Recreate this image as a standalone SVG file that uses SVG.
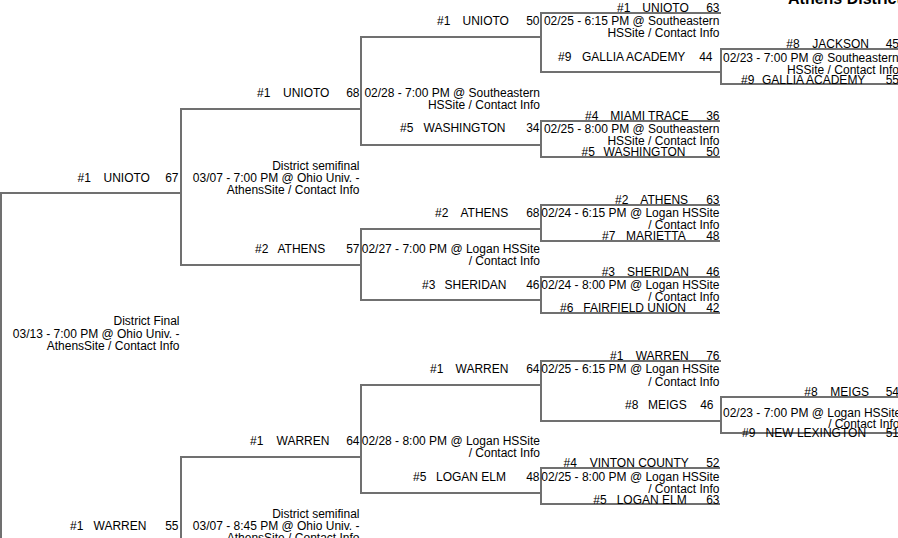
<svg xmlns="http://www.w3.org/2000/svg" width="898" height="538" viewBox="0 0 898 538">
<style>
text{font-family:"Liberation Sans",Arial,sans-serif;font-size:12px;fill:#000}
.e{text-anchor:end}
.title{font-weight:bold;font-size:16px}
.br{fill:none;stroke:#707070;stroke-width:2}
</style>
<rect width="898" height="538" fill="#fff"/>
<text class="title" x="788" y="3.5">Athens District</text>
<g id="connectors">
<path class="br" d="M0,193 H182 M1,192 V545"/>
<path class="br" d="M362,109 H181 V265 H362"/>
<path class="br" d="M362,457 H181 V545"/>
<path class="br" d="M542,37 H361 V145 H542"/>
<path class="br" d="M542,229 H361 V300 H542"/>
<path class="br" d="M542,385 H361 V493 H542"/>
<path class="br" d="M721,13 H541 V72 H722"/>
<path class="br" d="M720,121 H541 V157 H720"/>
<path class="br" d="M720,205 H541 V241 H720"/>
<path class="br" d="M720,277 H541 V313 H720"/>
<path class="br" d="M721,361 H541 V421 H722"/>
<path class="br" d="M720,468 H541 V504 H720"/>
<path class="br" d="M900,49 H721 V84 H900"/>
<path class="br" d="M900,397 H721 V433 H900"/>
</g>
<g id="final">
<text x="77.5" y="181.5">#1</text><text x="103.5" y="181.5">UNIOTO</text><text class="e" x="178.5" y="181.5">67</text>
<text class="e" x="179.5" y="325">District Final</text>
<text class="e" x="179.5" y="337.5">03/13 - 7:00 PM @ Ohio Univ. -</text>
<text class="e" x="179.5" y="349.5">AthensSite / Contact Info</text>
<text x="70" y="529.5">#1</text><text x="93.5" y="529.5">WARREN</text><text class="e" x="178.5" y="529.5">55</text>
</g>
<g id="semifinal-1">
<text x="257" y="97">#1</text><text x="283" y="97">UNIOTO</text><text class="e" x="359.5" y="97">68</text>
<text class="e" x="359.5" y="169.5">District semifinal</text>
<text class="e" x="359.5" y="181.5">03/07 - 7:00 PM @ Ohio Univ. -</text>
<text class="e" x="359.5" y="193.5">AthensSite / Contact Info</text>
<text x="255" y="253">#2</text><text x="277.5" y="253">ATHENS</text><text class="e" x="359.5" y="253">57</text>
</g>
<g id="semifinal-2">
<text x="250" y="445">#1</text><text x="276.5" y="445">WARREN</text><text class="e" x="359.5" y="445">64</text>
<text class="e" x="359.5" y="517.5">District semifinal</text>
<text class="e" x="359.5" y="529.5">03/07 - 8:45 PM @ Ohio Univ. -</text>
<text class="e" x="359.5" y="541.5">AthensSite / Contact Info</text>
</g>
<g id="quarter-1">
<text x="437" y="25">#1</text><text x="462.5" y="25">UNIOTO</text><text class="e" x="539.5" y="25">50</text>
<text class="e" x="540" y="97">02/28 - 7:00 PM @ Southeastern</text>
<text class="e" x="540" y="109">HSSite / Contact Info</text>
<text x="400" y="132">#5</text><text x="423.5" y="132">WASHINGTON</text><text class="e" x="539.5" y="132">34</text>
</g>
<g id="quarter-2">
<text x="435" y="217">#2</text><text x="460.5" y="217">ATHENS</text><text class="e" x="539.5" y="217">68</text>
<text class="e" x="540" y="253">02/27 - 7:00 PM @ Logan HSSite</text>
<text class="e" x="540" y="265">/ Contact Info</text>
<text x="422" y="289">#3</text><text x="444.5" y="289">SHERIDAN</text><text class="e" x="539.5" y="289">46</text>
</g>
<g id="quarter-3">
<text x="430" y="373">#1</text><text x="455.5" y="373">WARREN</text><text class="e" x="539.5" y="373">64</text>
<text class="e" x="540" y="445">02/28 - 8:00 PM @ Logan HSSite</text>
<text class="e" x="540" y="457">/ Contact Info</text>
<text x="413" y="481">#5</text><text x="436" y="481">LOGAN ELM</text><text class="e" x="539.5" y="481">48</text>
</g>
<g id="first-1">
<text x="617" y="12">#1</text><text x="642.3" y="12">UNIOTO</text><text class="e" x="719.5" y="12">63</text>
<text class="e" x="719.5" y="25">02/25 - 6:15 PM @ Southeastern</text>
<text class="e" x="719.5" y="37">HSSite / Contact Info</text>
<text x="558" y="61">#9</text><text x="582" y="61">GALLIA ACADEMY</text><text class="e" x="712.5" y="61">44</text>
</g>
<g id="first-2">
<text x="585" y="120">#4</text><text x="610.3" y="120">MIAMI TRACE</text><text class="e" x="719.5" y="120">36</text>
<text class="e" x="719.5" y="133">02/25 - 8:00 PM @ Southeastern</text>
<text class="e" x="719.5" y="145">HSSite / Contact Info</text>
<text x="581.5" y="156">#5</text><text x="603.5" y="156">WASHINGTON</text><text class="e" x="719.5" y="156">50</text>
</g>
<g id="first-3">
<text x="615" y="204">#2</text><text x="640.3" y="204">ATHENS</text><text class="e" x="719.5" y="204">63</text>
<text class="e" x="719.5" y="217">02/24 - 6:15 PM @ Logan HSSite</text>
<text class="e" x="719.5" y="229">/ Contact Info</text>
<text x="602" y="240">#7</text><text x="626" y="240">MARIETTA</text><text class="e" x="719.5" y="240">48</text>
</g>
<g id="first-4">
<text x="601.7" y="276">#3</text><text x="627" y="276">SHERIDAN</text><text class="e" x="719.5" y="276">46</text>
<text class="e" x="719.5" y="289">02/24 - 8:00 PM @ Logan HSSite</text>
<text class="e" x="719.5" y="301">/ Contact Info</text>
<text x="560" y="312">#6</text><text x="583.3" y="312">FAIRFIELD UNION</text><text class="e" x="719.5" y="312">42</text>
</g>
<g id="first-5">
<text x="610" y="360">#1</text><text x="635.7" y="360">WARREN</text><text class="e" x="719.5" y="360">76</text>
<text class="e" x="719.5" y="373">02/25 - 6:15 PM @ Logan HSSite</text>
<text class="e" x="719.5" y="386">/ Contact Info</text>
<text x="625" y="409">#8</text><text x="648" y="409">MEIGS</text><text class="e" x="713.5" y="409">46</text>
</g>
<g id="first-6">
<text x="563.5" y="467">#4</text><text x="589.7" y="467">VINTON COUNTY</text><text class="e" x="719.5" y="467">52</text>
<text class="e" x="719.5" y="481">02/25 - 8:00 PM @ Logan HSSite</text>
<text class="e" x="719.5" y="493">/ Contact Info</text>
<text x="593.3" y="503.5">#5</text><text x="616.7" y="503.5">LOGAN ELM</text><text class="e" x="719.5" y="503.5">63</text>
</g>
<g id="playin-1">
<text x="786.3" y="48">#8</text><text x="812.3" y="48">JACKSON</text><text class="e" x="899" y="48">45</text>
<text x="723" y="62">02/23 - 7:00 PM @ Southeastern</text>
<text class="e" x="899" y="74">HSSite / Contact Info</text>
<text x="741" y="83.5">#9</text><text x="762" y="83.5">GALLIA ACADEMY</text><text class="e" x="899" y="83.5">55</text>
</g>
<g id="playin-2">
<text x="804.3" y="396">#8</text><text x="830.3" y="396">MEIGS</text><text class="e" x="899" y="396">54</text>
<text x="723" y="417">02/23 - 7:00 PM @ Logan HSSite</text>
<text class="e" x="899.5" y="427.5">/ Contact Info</text>
<text x="742" y="436.5">#9</text><text x="765.6" y="436.5">NEW LEXINGTON</text><text class="e" x="899" y="436.5">51</text>
</g>
</svg>
